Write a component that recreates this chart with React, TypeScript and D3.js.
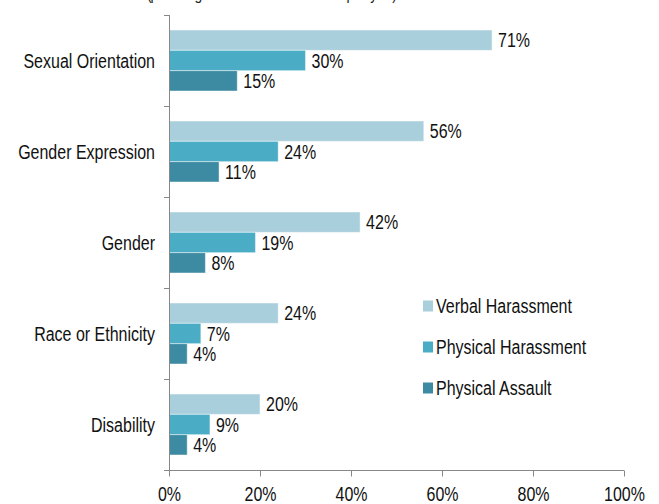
import * as d3 from "d3";
import React, { useRef, useEffect } from "react";

const categories = ["Sexual Orientation", "Gender Expression", "Gender", "Race or Ethnicity", "Disability"];
const seriesNames = ["Verbal Harassment", "Physical Harassment", "Physical Assault"];
const verbal = [71, 56, 42, 24, 20];
const physicalHarassment = [30, 24, 19, 7, 9];
const physicalAssault = [15, 11, 8, 4, 4];
const xTicks = [0, 20, 40, 60, 80, 100];
const colors = ["#a9cfdc", "#4bacc6", "#3c8ba2"];

const App = () => {
    const svgRef = useRef(null);

    useEffect(() => {
        const width = 659;
        const height = 504;
        const marginTop = 15;
        const marginLeft = 169;
        const marginRight = 35;
        const marginBottom = 34;
        const font = "'Liberation Sans', Arial, sans-serif";
        const narrow = 0.82; // the original uses a narrow face, squeeze a regular one
        const values = [verbal, physicalHarassment, physicalAssault];

        const x = d3.scaleLinear().domain([0, 100]).range([marginLeft, width - marginRight]);
        const y = d3.scaleBand().domain(categories).range([marginTop, height - marginBottom]);
        const inner = d3.scaleBand().domain(seriesNames).range([15, y.bandwidth() - 15]);

        const svg = d3.select(svgRef.current);
        svg.selectAll("*").remove();

        const squeeze = (px, py) => `translate(${px},${py}) scale(${narrow},1)`;

        // title, mostly cut off at the top
        svg.append("text")
            .attr("transform", squeeze(272, 0))
            .attr("text-anchor", "middle")
            .attr("font-family", font)
            .attr("font-size", 17)
            .attr("fill", "#222")
            .attr("textLength", 250 / narrow)
            .text("(percentage of students assaulted in the past year)");

        // bars
        seriesNames.forEach((s, si) => {
            svg.append("g")
                .selectAll("rect")
                .data(categories)
                .join("rect")
                .attr("x", x(0))
                .attr("y", (c) => y(c) + inner(s))
                .attr("width", (c, i) => x(values[si][i]) - x(0))
                .attr("height", inner.bandwidth())
                .attr("fill", colors[si])
                .attr("stroke", "#fff")
                .attr("stroke-opacity", 0.45)
                .attr("stroke-width", 1);

            svg.append("g")
                .selectAll("text")
                .data(categories)
                .join("text")
                .attr("transform", (c, i) => squeeze(x(values[si][i]) + 6, y(c) + inner(s) + inner.bandwidth() / 2))
                .attr("dy", "0.36em")
                .attr("font-family", font)
                .attr("font-size", 19.5)
                .attr("fill", "#111")
                .text((c, i) => values[si][i] + "%");
        });

        // y axis
        const axisColor = "#888";
        svg.append("line")
            .attr("x1", x(0) + 0.5).attr("x2", x(0) + 0.5)
            .attr("y1", marginTop).attr("y2", height - marginBottom)
            .attr("stroke", axisColor);
        const bounds = categories.map((c) => y(c)).concat([height - marginBottom]);
        svg.append("g")
            .selectAll("line")
            .data(bounds)
            .join("line")
            .attr("x1", x(0) - 5).attr("x2", x(0) + 0.5)
            .attr("y1", (d) => Math.round(d) + 0.5).attr("y2", (d) => Math.round(d) + 0.5)
            .attr("stroke", axisColor);
        svg.append("g")
            .selectAll("text")
            .data(categories)
            .join("text")
            .attr("transform", (c) => squeeze(x(0) - 14, y(c) + y.bandwidth() / 2))
            .attr("dy", "0.36em")
            .attr("text-anchor", "end")
            .attr("font-family", font)
            .attr("font-size", 19.5)
            .attr("fill", "#111")
            .text((c) => c);

        // x axis
        const xAxis = svg.append("g")
            .attr("transform", `translate(0,${height - marginBottom + 0.5})`)
            .call(d3.axisBottom(x).tickValues(xTicks).tickSize(6).tickFormat((d) => d + "%"));
        xAxis.select(".domain").attr("stroke", axisColor).attr("d", `M${x(0) - 5},0H${x(100)}`);
        xAxis.selectAll(".tick line").attr("stroke", axisColor);
        xAxis.selectAll(".tick text")
            .attr("y", null)
            .attr("dy", null)
            .attr("transform", squeeze(0, 30.5))
            .attr("font-family", font)
            .attr("font-size", 19.5)
            .attr("fill", "#111");

        // legend
        const legend = svg.append("g")
            .selectAll("g")
            .data(seriesNames)
            .join("g")
            .attr("transform", (d, i) => `translate(423,${306 + i * 41})`);
        legend.append("rect")
            .attr("x", 0).attr("y", -5.5)
            .attr("width", 10).attr("height", 11)
            .attr("fill", (d, i) => colors[i]);
        legend.append("text")
            .attr("transform", squeeze(13, 0))
            .attr("dy", "0.36em")
            .attr("font-family", font)
            .attr("font-size", 19.5)
            .attr("fill", "#111")
            .text((d) => d);
    }, []);

    return (
        <svg
            ref={svgRef}
            width={659}
            height={504}
            style={{ position: "absolute", left: 0, top: 0, background: "#fff" }}
        />
    );
};

export default App;
